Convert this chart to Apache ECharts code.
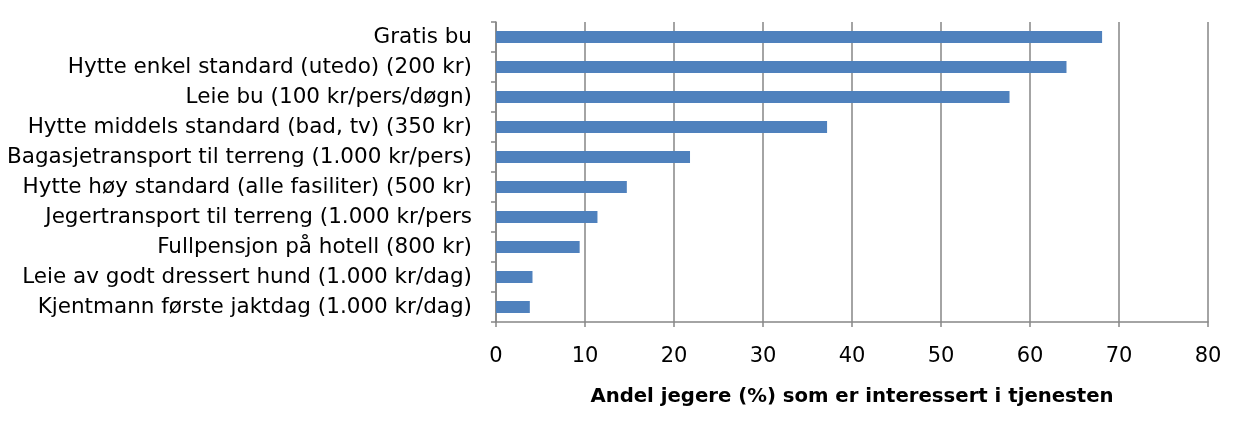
<!DOCTYPE html>
<html>
<head>
<meta charset="utf-8">
<script src="https://cdn.jsdelivr.net/npm/echarts@6/dist/echarts.min.js"></script>
<style>html,body{margin:0;padding:0;background:#fff}#c{width:1242px;height:423px}</style>
</head>
<body>
<div id="c"></div>
<script>
const categories = [
  "Gratis bu",
  "Hytte enkel standard (utedo) (200 kr)",
  "Leie bu (100 kr/pers/døgn)",
  "Hytte middels standard (bad, tv) (350 kr)",
  "Bagasjetransport til terreng (1.000 kr/pers)",
  "Hytte høy standard (alle fasiliter) (500 kr)",
  "Jegertransport til terreng (1.000 kr/pers",
  "Fullpensjon på hotell (800 kr)",
  "Leie av godt dressert hund (1.000 kr/dag)",
  "Kjentmann første jaktdag (1.000 kr/dag)"
];
const values = [68.1, 64.1, 57.7, 37.2, 21.8, 14.7, 11.4, 9.4, 4.1, 3.8];
const xTicks = [0, 10, 20, 30, 40, 50, 60, 70, 80];
const axisTitle = "Andel jegere (%) som er interessert i tjenesten";

const FONT = "'DejaVu Sans', 'Open Sans', sans-serif";
const chart = echarts.init(document.getElementById('c'), null, {renderer: 'canvas'});
chart.setOption({
  animation: false,
  backgroundColor: '#ffffff',
  grid: {left: 496, right: 34, top: 22, bottom: 101, containLabel: false},
  xAxis: {
    type: 'value',
    min: xTicks[0], max: xTicks[xTicks.length - 1], interval: 10,
    axisLine: {show: true, lineStyle: {color: '#868686', width: 1.5}},
    axisTick: {show: true, length: 5, lineStyle: {color: '#868686', width: 1.5}},
    splitLine: {show: true, lineStyle: {color: '#868686', width: 1.5}},
    axisLabel: {color: '#000', fontSize: 21, fontFamily: FONT, margin: 24},
    name: axisTitle,
    nameLocation: 'middle',
    nameGap: 65,
    nameTextStyle: {color: '#000', fontSize: 19.7, fontWeight: 'bold', fontFamily: FONT}
  },
  yAxis: {
    type: 'category',
    data: categories,
    inverse: true,
    axisLine: {show: true, lineStyle: {color: '#868686', width: 1.5}},
    axisTick: {show: true, length: 5, lineStyle: {color: '#868686', width: 1.5}},
    splitLine: {show: false},
    axisLabel: {color: '#000', fontSize: 21.5, fontFamily: FONT, margin: 24}
  },
  series: [{
    type: 'bar',
    data: values,
    barWidth: 12,
    itemStyle: {color: '#4F81BD'}
  }]
});
</script>
</body>
</html>
